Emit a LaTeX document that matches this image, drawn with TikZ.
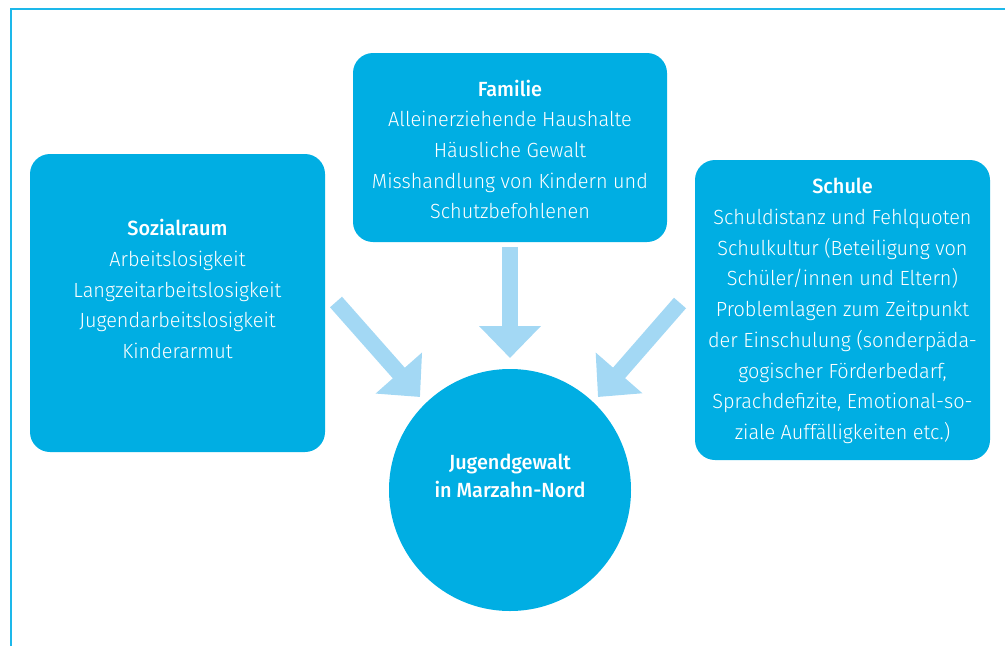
\documentclass[tikz,border=0pt]{standalone}
\usepackage{fontspec}
\setmainfont{Fira Sans Light}[BoldFont={Fira Sans Medium},FakeStretch=0.97]
\usetikzlibrary{arrows.meta}
\definecolor{boxc}{HTML}{00AEE3}
\definecolor{arrc}{HTML}{A3D8F4}
\definecolor{framec}{HTML}{1DB8EA}
\tikzset{
  box/.style={fill=boxc, rounded corners=20pt, inner sep=0pt},
  txt/.style={text=white, align=center, font=\fontsize{20.5}{30.7}\selectfont, inner sep=0pt},
  barrow/.style={draw=arrc, line width=16pt, -{Triangle[width=60pt,length=32pt]}},
}
\begin{document}
\begin{tikzpicture}[x=1pt,y=-1pt]
\useasboundingbox (0,0) rectangle (1005,646);
\draw[framec, line width=1.6pt] (11,646) -- (11,9) -- (1005,9);
% boxes
\node[box, minimum width=295pt, minimum height=298pt] (soz) at (177.5,303) {};
\node[box, minimum width=314pt, minimum height=189pt] (fam) at (510,147.5) {};
\node[box, minimum width=295pt, minimum height=300pt] (sch) at (842.5,310) {};
\node[fill=boxc, circle, minimum size=242pt, inner sep=0pt] (jug) at (510,490) {};
% texts
\node[txt] (soztxt) at (177.5,289) {\textbf{Sozialraum}\\Arbeitslosigkeit\\Langzeitarbeitslosigkeit\\Jugendarbeitslosigkeit\\Kinderarmut};
\node[txt] (famtxt) at (510,149.5) {\textbf{Familie}\\Alleinerziehende Haushalte\\Häusliche Gewalt\\Misshandlung von Kindern und\\Schutzbefohlenen};
\node[txt] (schtxt) at (842.5,311) {\textbf{Schule}\\Schuldistanz und Fehlquoten\\Schulkultur (Beteiligung von\\Schüler/innen und Eltern)\\Problemlagen zum Zeitpunkt\\der Einschulung (sonderpäda-\\gogischer Förderbedarf,\\Sprachdefizite, Emotional-so-\\ziale Auffälligkeiten etc.)};
\node[txt, font=\fontsize{20.5}{28}\selectfont\bfseries] (jugtxt) at (510,476) {Jugendgewalt\\in Marzahn-Nord};
% arrows
\coordinate (a1s) at (336,302);
\coordinate (a1e) at (420,397);
\coordinate (a2s) at (510,247);
\coordinate (a2e) at (510,358);
\coordinate (a3s) at (680,303);
\coordinate (a3e) at (598,397);
\draw[barrow] (a1s) -- (a1e);
\draw[barrow] (a2s) -- (a2e);
\draw[barrow] (a3s) -- (a3e);
\end{tikzpicture}
\end{document}
